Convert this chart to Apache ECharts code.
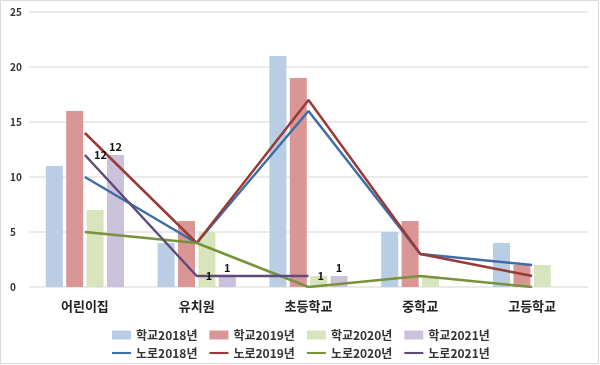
<!DOCTYPE html>
<html><head><meta charset="utf-8">
<script src="https://cdn.jsdelivr.net/npm/echarts@6/dist/echarts.min.js"></script>
<style>html,body{margin:0;padding:0;background:#fff}#c{width:600px;height:365px}</style>
</head><body><div id="c"></div>
<script>
const categories = ['어린이집','유치원','초등학교','중학교','고등학교'];
const yTicks = [0,5,10,15,20,25];
const school2018 = [11,4,21,5,4];
const school2019 = [16,6,19,6,2];
const school2020 = [7,5,1,1,2];
const school2021 = [12,1,1,null,null];
const noro2018 = [10,4,16,3,2];
const noro2019 = [14,4,17,3,1];
const noro2020 = [5,4,0,1,0];
const noro2021 = [12,1,1,null,null];

const font = '"Noto Sans CJK KR", "Noto Sans", sans-serif';
const chart = echarts.init(document.getElementById('c'), null, {renderer:'canvas'});
function bar(name, data, color, label){
  return {name, type:'bar', data, barWidth:17, barGap:'20%', itemStyle:{color},
    label: label ? {show:true, position:'top', distance:3, color:'#111', fontWeight:'bold', fontSize:11, fontFamily:font} : {show:false}};
}
function line(name, data, color, label){
  return {name, type:'line', data, symbol:'circle', symbolSize:0, showSymbol:true, lineStyle:{color, width:2.5}, itemStyle:{color},
    label: label ? {show:true, position:'right', distance:9, color:'#111', fontWeight:'bold', fontSize:11, fontFamily:font} : {show:false}, z:5};
}
const legendText = {fontSize:12, fontWeight:'bold', color:'#333', fontFamily:font, width:64, overflow:'none'};
chart.setOption({
  animation:false,
  grid:{left:29, right:12, top:12, bottom:78},
  graphic:[{type:'rect', shape:{x:0.5,y:0.5,width:598,height:363}, style:{fill:'none', stroke:'#d9d9d9', lineWidth:1}, silent:true}],
  legend:[
    {data:['학교2018년','학교2019년','학교2020년','학교2021년'], left:107, top:324, itemWidth:19, itemHeight:9, itemGap:12, textStyle:legendText, icon:'rect'},
    {data:['노로2018년','노로2019년','노로2020년','노로2021년'], left:107, top:342, itemWidth:19, itemHeight:11, itemGap:12, textStyle:legendText,
      icon:'path://M0,4.5 L18,4.5 L18,6.5 L0,6.5 Z'}
  ],
  xAxis:{type:'category', data:categories, boundaryGap:true,
    axisLine:{show:false}, axisTick:{show:false},
    axisLabel:{fontSize:13, fontWeight:'bold', color:'#222', margin:13, fontFamily:font}},
  yAxis:{type:'value', min:0, max:25, interval:5,
    axisLine:{show:false}, axisTick:{show:false},
    splitLine:{lineStyle:{color:'#e3e3e3', width:1.5}},
    axisLabel:{fontSize:10, fontWeight:'bold', color:'#333', align:'left', margin:19, fontFamily:font,
      formatter:v=>yTicks.includes(v)?String(v):''}},
  series:[
    bar('학교2018년', school2018, '#b9cde5'),
    bar('학교2019년', school2019, '#d99694'),
    bar('학교2020년', school2020, '#d7e4bd'),
    bar('학교2021년', school2021, '#ccc1da', true),
    line('노로2018년', noro2018, '#3f6ea6'),
    line('노로2019년', noro2019, '#983a38'),
    line('노로2020년', noro2020, '#77933c'),
    line('노로2021년', noro2021, '#604a7b', true)
  ]
});
</script></body></html>
